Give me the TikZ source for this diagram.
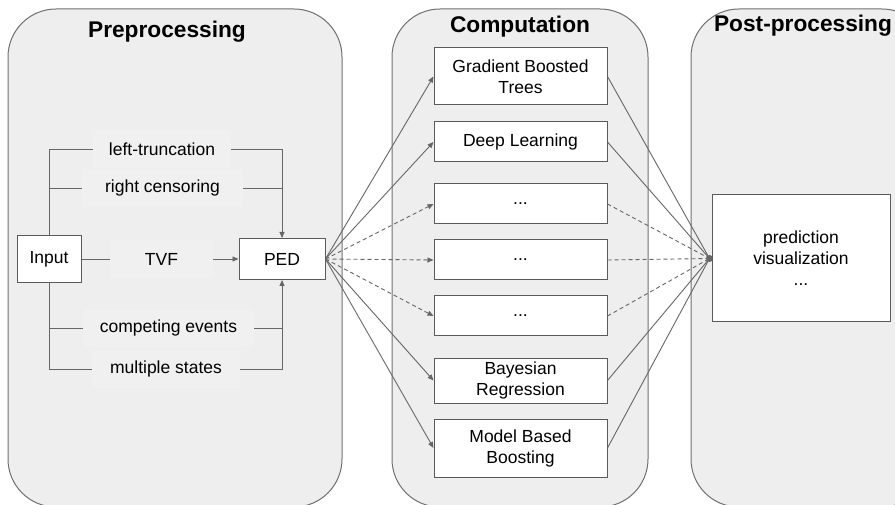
\documentclass[tikz,border=0pt]{standalone}
\usepackage{fontspec}
\setmainfont{Liberation Sans}
\usetikzlibrary{arrows.meta}
\definecolor{panelfill}{HTML}{EEEEEE}
\definecolor{paneldraw}{HTML}{707070}
\definecolor{linecol}{HTML}{666666}
\definecolor{boxdraw}{HTML}{5A5A5A}
\definecolor{labfill}{HTML}{F0F0F0}
\begin{document}
\begin{tikzpicture}[x=1pt,y=-1pt,
  font=\fontsize{17.5}{21}\selectfont,
  panel/.style={draw=paneldraw, fill=panelfill, rounded corners=48pt, line width=1pt},
  paneltitle/.style={font=\fontsize{22.7}{27}\selectfont\bfseries, anchor=base, inner sep=0pt},
  box/.style={draw=boxdraw, fill=white, line width=1pt, align=center, inner sep=0pt},
  lab/.style={fill=labfill, inner sep=0pt, minimum height=38pt},
  conn/.style={draw=linecol, line width=0.9pt},
  arr/.style={conn, -{Triangle[length=6pt,width=5pt]}},
  dsh/.style={dash pattern=on 4pt off 3pt}
]
\useasboundingbox (0,0) rectangle (895,505);
\clip (0,0) rectangle (895,505);
% panels
\draw[panel] (8,9) rectangle (342,507);
\draw[panel] (392,9) rectangle (648,507);
\draw[panel] (691,9) rectangle (930,507);
\node[paneltitle] (t1) at (167,38) {Preprocessing};
\node[paneltitle] (t2) at (520,33) {Computation};
\node[paneltitle] (t3) at (803,32) {Post-processing};
% preprocessing
\node[box, minimum width=64pt, minimum height=47pt] (inp) at (49,259) {Input};
\node[box, minimum width=86pt, minimum height=41pt] (ped) at (282,259) {PED};
\node[lab, minimum width=138pt] (lt) at (162,149) {left-truncation};
\node[lab, minimum width=161pt] (rc) at (162.5,188) {right censoring};
\node[lab, minimum width=103pt] (tvf) at (161.5,259) {TVF};
\node[lab, minimum width=171pt] (ce) at (168.5,328) {competing events};
\node[lab, minimum width=148pt] (ms) at (166,369) {multiple states};
\draw[conn] (inp.north) |- (lt.west);
\draw[conn] (rc.west) -- (rc.west -| inp.north);
\draw[arr] (lt.east) -| (ped.north);
\draw[conn] (rc.east) -- (rc.east -| ped.north);
\draw[conn] (inp.south) |- (ms.west);
\draw[conn] (ce.west) -- (ce.west -| inp.south);
\draw[arr] (ms.east) -| (ped.south);
\draw[conn] (ce.east) -- (ce.east -| ped.south);
\draw[conn] (inp.east) -- (tvf.west);
\draw[arr] (tvf.east) -- (ped.west);
% computation
\node[box, minimum width=173pt, minimum height=57pt] (gbt) at (520.5,76.5) {Gradient Boosted\\Trees};
\node[box, minimum width=173pt, minimum height=40pt] (dl) at (520.5,142) {Deep Learning};
\node[box, minimum width=173pt, minimum height=40pt] (da) at (520.5,204) {...};
\node[box, minimum width=173pt, minimum height=40pt] (db) at (520.5,260) {...};
\node[box, minimum width=173pt, minimum height=40pt] (dc) at (520.5,316) {...};
\node[box, minimum width=173pt, minimum height=45pt] (bay) at (520.5,380.5) {Bayesian\\Regression};
\node[box, minimum width=173pt, minimum height=58pt] (mbb) at (520.5,448) {Model Based\\Boosting};
\foreach \n in {gbt,dl,bay,mbb} \draw[arr] (ped.east) -- (\n.west);
\foreach \n in {da,db,dc} \draw[arr,dsh] (ped.east) -- (\n.west);
% post-processing
\coordinate (hub) at (709.5,258.5);
\foreach \n in {gbt,dl,bay,mbb} \draw[conn] (\n.east) -- (hub);
\foreach \n in {da,db,dc} \draw[conn,dsh] (\n.east) -- (hub);
\fill[linecol] (hub) circle (3.5pt);
\node[box, minimum width=178pt, minimum height=127pt] (post) at (801,258.5) {prediction\\visualization\\...};
\end{tikzpicture}
\end{document}
